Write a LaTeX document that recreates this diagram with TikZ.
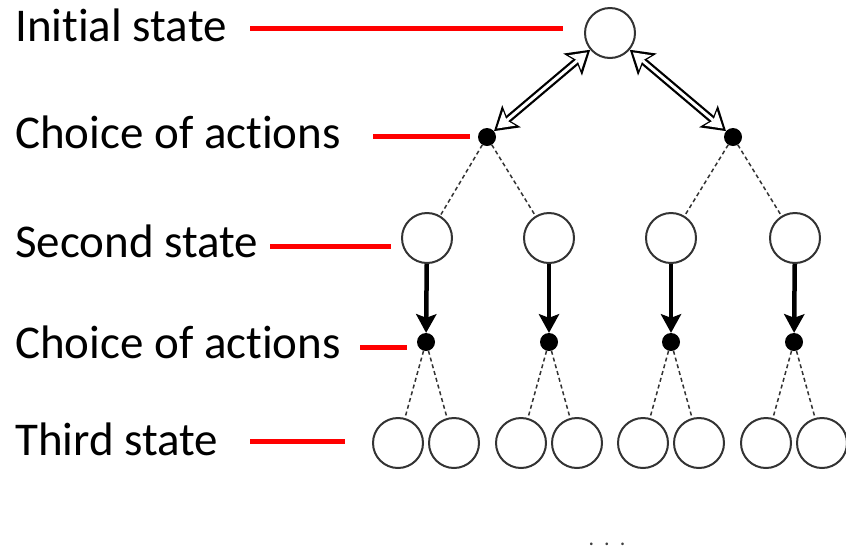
\documentclass[tikz,border=0pt]{standalone}
\usepackage{fontspec}
\setmainfont[RawFeature={-liga}]{Carlito}
\usetikzlibrary{arrows.meta}
\begin{document}
\begin{tikzpicture}[x=1pt,y=-1pt,
  state/.style={circle,draw=black!80,line width=2pt,minimum size=50pt,inner sep=0pt,fill=white},
  act/.style={circle,fill=black,minimum size=18pt,inner sep=0pt},
  lbl/.style={anchor=base west,inner sep=0pt,font=\fontsize{47}{50}\selectfont},
  redline/.style={red,line width=5pt},
  dashedge/.style={dash pattern=on 4pt off 3pt,line width=1.5pt,black!80},
  thickarrow/.style={line width=4.5pt,-{Stealth[length=19pt,width=21pt,inset=4pt,line width=0pt]}},
  outerdbl/.style={line width=7.5pt,{Stealth[length=23pt,width=29pt,inset=5pt,line width=0pt]}-{Stealth[length=23pt,width=29pt,inset=5pt,line width=0pt]}},
  innerdbl/.style={white,line width=3pt,shorten <=4pt,shorten >=4pt,{Stealth[length=16pt,width=19.5pt,inset=3.5pt,line width=0pt]}-{Stealth[length=16pt,width=19.5pt,inset=3.5pt,line width=0pt]}},
]
\useasboundingbox (0,0) rectangle (846,550);

% labels
\node[lbl] (l1) at (15,41) {Initial state};
\node[lbl] (l2) at (15,148) {Choice of actions};
\node[lbl] (l3) at (15,257) {Second state};
\node[lbl] (l4) at (15,358) {Choice of actions};
\node[lbl] (l5) at (15,455) {Third state};

% red pointer lines
\coordinate (r1a) at (250,28);  \coordinate (r1b) at (563,28);
\coordinate (r2a) at (373,136); \coordinate (r2b) at (470,136);
\coordinate (r3a) at (270,246); \coordinate (r3b) at (391,246);
\coordinate (r4a) at (360,347); \coordinate (r4b) at (407,347);
\coordinate (r5a) at (250,441); \coordinate (r5b) at (345,441);
\foreach \i in {1,...,5} \draw[redline] (r\i a) -- (r\i b);

% tree nodes
\node[state] (top) at (610,33) {};
\node[act] (a1) at (487,137) {};
\node[act] (a2) at (733,137) {};
\node[state] (s1) at (427,238) {};
\node[state] (s2) at (549,238) {};
\node[state] (s3) at (671,238) {};
\node[state] (s4) at (795,238) {};
\node[act] (b1) at (426,342) {};
\node[act] (b2) at (549,342) {};
\node[act] (b3) at (671,342) {};
\node[act] (b4) at (794,342) {};
\node[state] (t1) at (398,443) {};
\node[state] (t2) at (454,443) {};
\node[state] (t3) at (521,443) {};
\node[state] (t4) at (577,443) {};
\node[state] (t5) at (643,443) {};
\node[state] (t6) at (699,443) {};
\node[state] (t7) at (766,443) {};
\node[state] (t8) at (822,443) {};

% hollow double arrows
\draw[outerdbl] (top) -- (a1);
\draw[innerdbl] (top) -- (a1);
\draw[outerdbl] (top) -- (a2);
\draw[innerdbl] (top) -- (a2);

% dashed edges
\draw[dashedge] (a1) -- (s1);
\draw[dashedge] (a1) -- (s2);
\draw[dashedge] (a2) -- (s3);
\draw[dashedge] (a2) -- (s4);
\draw[dashedge] (b1) -- (t1);
\draw[dashedge] (b1) -- (t2);
\draw[dashedge] (b2) -- (t3);
\draw[dashedge] (b2) -- (t4);
\draw[dashedge] (b3) -- (t5);
\draw[dashedge] (b3) -- (t6);
\draw[dashedge] (b4) -- (t7);
\draw[dashedge] (b4) -- (t8);

% thick arrows
\draw[thickarrow] (s1) -- (b1);
\draw[thickarrow] (s2) -- (b2);
\draw[thickarrow] (s3) -- (b3);
\draw[thickarrow] (s4) -- (b4);

% ellipsis
\node[font=\fontsize{22}{22}\selectfont,text=black!75,inner sep=0pt] (more) at (607,544) {.\kern10pt.\kern10pt.};
\end{tikzpicture}
\end{document}
